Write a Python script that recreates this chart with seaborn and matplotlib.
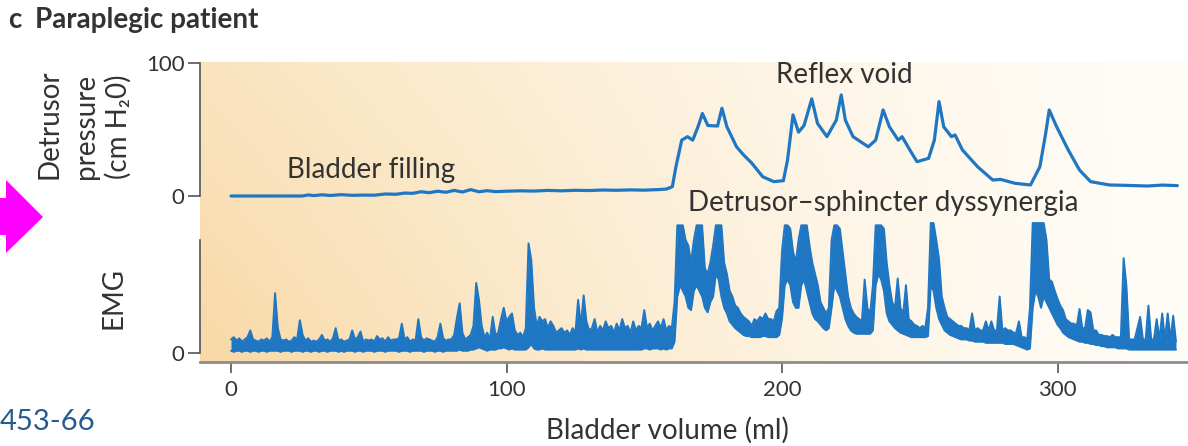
import numpy as np
import matplotlib
matplotlib.use('Agg')
import matplotlib.pyplot as plt
import seaborn as sns
from matplotlib.patches import Polygon
from matplotlib.colors import to_rgb

# ---------------- data ----------------
pressure_ml = [0, 10, 20, 26, 28, 30, 33, 36, 40, 44, 48, 52, 56, 60, 63, 66, 69, 72, 75, 78,
               81, 84, 87, 90, 93, 96, 100, 105, 110, 115, 120, 125, 130, 135, 140, 145, 150,
               155, 158, 160.2, 161.5, 163.6, 165.7, 167.6, 169.5, 171.1, 173.1, 176.6, 178.2,
               180, 183.5, 186, 189, 193, 197, 200.5, 202, 204, 206, 208, 210.8, 212.9, 216.3,
               219.7, 221.5, 223, 225.8, 231.3, 234, 236.7, 239, 242.2, 243.6, 246.4, 249,
               253.2, 255.3, 257, 258.7, 261.5, 262.8, 265.5, 271, 276.5, 279.3, 284.7, 290.2,
               293.6, 295.7, 297, 299.7, 303.9, 308, 312, 318.8, 325, 332.6, 338, 343.5]
pressure_val = [0, 0, 0, 0, 0.8, 0.3, 0.9, 0.4, 1, 0.5, 0.7, 0.6, 1.5, 1.3, 2.2, 2.0, 3.2, 2.5,
                3.6, 2.8, 4.2, 3.0, 4.8, 3.2, 4.0, 3.3, 3.6, 3.9, 3.7, 4.2, 3.9, 4.3, 4.1, 4.5,
                4.3, 4.6, 4.4, 4.8, 5.2, 7, 22, 42, 44.6, 42, 52, 62, 53, 52.6, 66, 52, 37, 31,
                24.8, 14.5, 10.8, 11.5, 27, 61, 48, 53, 73, 54.6, 44.6, 57, 76, 57, 44.6, 37, 42,
                64.7, 52, 42, 44.6, 34.6, 25.8, 28.3, 42, 71, 52, 44.6, 45.9, 34.6, 22, 12, 12.5,
                9.5, 8.3, 22, 47, 64.7, 52, 34.6, 19.5, 10.8, 8.3, 8, 7.5, 8.2, 7.8]

emg_ml = list(range(0, 344))
# upper and lower edge of the dense EMG trace, one reading per ml
emg_high = [
    12, 14, 11, 13, 10, 12, 14, 20, 12, 11,
    10, 12, 11, 13, 10, 14, 53, 22, 12, 11,
    12, 10, 11, 14, 12, 29, 16, 11, 13, 10,
    11, 10, 12, 16, 11, 12, 10, 13, 22, 11,
    12, 10, 11, 12, 20, 12, 14, 19, 10, 12,
    11, 12, 10, 15, 12, 13, 10, 14, 11, 12,
    12, 13, 26, 12, 14, 10, 12, 11, 30, 14,
    11, 13, 12, 11, 10, 14, 26, 13, 11, 12,
    12, 16, 31, 44, 18, 12, 14, 16, 24, 62,
    47, 24, 14, 18, 12, 32, 16, 18, 30, 40,
    28, 32, 35, 20, 16, 18, 14, 22, 97, 82,
    40, 24, 32, 28, 30, 22, 28, 24, 18, 20,
    22, 18, 20, 16, 22, 18, 47, 24, 51, 28,
    20, 22, 30, 18, 24, 20, 28, 22, 24, 18,
    26, 20, 30, 22, 24, 18, 28, 20, 24, 22,
    38, 22, 26, 20, 24, 28, 22, 30, 20, 24,
    22, 45, 113, 113, 113, 100, 95, 80, 100, 113,
    113, 113, 75, 70, 80, 95, 113, 113, 113, 80,
    70, 55, 50, 42, 40, 35, 32, 30, 28, 24,
    30, 28, 32, 30, 35, 30, 30, 28, 37, 40,
    90, 113, 113, 110, 90, 80, 100, 113, 113, 113,
    95, 80, 70, 60, 45, 40, 35, 40, 100, 113,
    113, 110, 90, 70, 50, 40, 35, 32, 30, 28,
    65, 40, 35, 60, 113, 113, 113, 110, 80, 60,
    45, 40, 66, 40, 35, 60, 30, 28, 25, 24,
    22, 24, 22, 40, 115, 115, 100, 83, 50, 40,
    32, 30, 28, 26, 24, 24, 22, 22, 20, 35,
    20, 22, 20, 20, 28, 20, 28, 20, 20, 50,
    20, 22, 20, 20, 18, 18, 28, 14, 14, 12,
    40, 115, 115, 115, 115, 115, 100, 65, 63, 55,
    48, 42, 38, 30, 28, 26, 26, 24, 39, 22,
    22, 38, 36, 20, 20, 16, 16, 15, 15, 14,
    16, 14, 14, 14, 84, 60, 12, 12, 12, 22,
    32, 12, 12, 42, 12, 12, 30, 12, 35, 12,
    35, 12, 33, 10]
emg_low = [
    2, 1, 2, 2, 1, 2, 2, 1, 2, 2,
    1, 2, 2, 1, 2, 2, 2, 2, 1, 2,
    2, 2, 1, 2, 2, 2, 1, 2, 2, 1,
    2, 2, 1, 2, 2, 1, 2, 2, 2, 1,
    2, 1, 2, 2, 2, 1, 2, 2, 1, 2,
    2, 2, 1, 2, 2, 2, 1, 2, 2, 2,
    2, 1, 2, 2, 2, 1, 2, 2, 2, 2,
    1, 2, 2, 2, 1, 2, 2, 1, 2, 2,
    2, 2, 2, 3, 2, 2, 2, 3, 3, 4,
    5, 4, 3, 2, 3, 3, 3, 4, 4, 5,
    4, 3, 4, 3, 3, 3, 3, 3, 5, 8,
    4, 3, 3, 4, 3, 3, 3, 3, 3, 3,
    3, 3, 3, 3, 3, 3, 4, 3, 4, 3,
    3, 3, 3, 3, 3, 3, 3, 3, 3, 3,
    3, 3, 3, 3, 3, 3, 3, 3, 3, 3,
    4, 4, 3, 4, 4, 4, 3, 4, 3, 4,
    4, 10, 50, 60, 55, 50, 40, 38, 55, 60,
    55, 50, 40, 36, 45, 50, 70, 65, 50, 40,
    35, 28, 25, 22, 20, 18, 16, 15, 15, 14,
    14, 14, 14, 15, 15, 14, 14, 14, 14, 16,
    30, 60, 65, 60, 45, 40, 40, 60, 65, 55,
    45, 35, 30, 28, 25, 22, 20, 22, 40, 60,
    55, 50, 40, 30, 24, 20, 18, 17, 17, 17,
    17, 17, 17, 20, 60, 70, 65, 55, 35, 28,
    25, 22, 20, 18, 17, 16, 15, 14, 14, 14,
    14, 14, 14, 15, 60, 55, 40, 30, 25, 20,
    18, 16, 15, 14, 13, 12, 12, 12, 11, 11,
    10, 10, 10, 10, 9, 9, 9, 9, 9, 9,
    9, 8, 8, 8, 8, 7, 6, 5, 4, 3,
    4, 40, 55, 50, 40, 50, 45, 40, 35, 30,
    25, 22, 18, 16, 14, 13, 12, 11, 10, 10,
    9, 9, 8, 8, 7, 7, 6, 6, 5, 5,
    5, 5, 4, 4, 4, 4, 3, 3, 3, 3,
    3, 3, 3, 3, 3, 3, 3, 3, 3, 3,
    3, 3, 3, 3]

x_ticks = [0, 100, 200, 300]
pressure_ticks = [0, 100]
emg_ticks = [0]

# ---------------- styling ----------------
W, H = 1188, 446
BLUE = '#1f77c3'
TXT = '#333333'
SPINE = '#555555'
FS = 20
sns.set_style('white')
plt.rcParams['font.family'] = ['Lato', 'DejaVu Sans']

fig = plt.figure(figsize=(W / 100, H / 100), dpi=100)


def box(x0, y0, x1, y1):
    """pixel box (top-left origin) -> figure fraction rect"""
    return [x0 / W, 1 - y1 / H, (x1 - x0) / W, (y1 - y0) / H]


XPX0, XSC = 231, 2.755
XLIM = ((200 - XPX0) / XSC, (W - XPX0) / XSC)

# background gradient panel
bg = fig.add_axes(box(200, 62, W, 362))
nx, ny = 400, 120
xn = np.linspace(0, 1, nx)[None, :]
yn = np.linspace(0, 1, ny)[:, None]  # 0 top, 1 bottom
w = (1 - xn) ** 1.3 * (0.7 + 0.3 * yn)
peach = np.array(to_rgb('#f8d9a6'))
cream = np.array(to_rgb('#fffdf8'))
img = cream[None, None, :] + w[..., None] * (peach - cream)[None, None, :]
bg.imshow(img, aspect='auto', extent=(0, 1, 0, 1), origin='upper', interpolation='bilinear')
bg.set_axis_off()

# pressure axes
axp = fig.add_axes(box(200, 55, W, 215))
axp.patch.set_alpha(0)
sns.lineplot(x=pressure_ml, y=pressure_val, ax=axp, color=BLUE, linewidth=2.3,
             estimator=None, sort=False)
axp.set_xlim(*XLIM)
axp.set_ylim((196 - 215) / 1.33, (196 - 55) / 1.33)
for s in ['top', 'right', 'bottom']:
    axp.spines[s].set_visible(False)
axp.spines['left'].set_bounds(0, 100)
axp.spines['left'].set_color(SPINE)
axp.spines['left'].set_linewidth(1.2)
axp.set_xticks([])
axp.set_yticks(pressure_ticks)
axp.tick_params(axis='y', direction='out', length=9, width=1.2, color=SPINE,
                labelsize=16, labelcolor=TXT, pad=2, left=True)
axp.set_xlabel('')
axp.set_ylabel('')

axp.text(222.5, 91, 'Reflex void', ha='center', va='center', fontsize=FS, color=TXT)
axp.text(20.3, 19.5, 'Bladder filling', ha='left', va='center', fontsize=FS, color=TXT)
axp.text(165.9, -5.3, 'Detrusor\u2013sphincter dyssynergia', ha='left', va='center',
         fontsize=FS, color=TXT, clip_on=False)

# EMG axes
axe = fig.add_axes(box(200, 215, W, 362))
axe.patch.set_alpha(0)
axe.fill_between(emg_ml, emg_low, emg_high, color=BLUE, linewidth=0)
sns.lineplot(x=emg_ml, y=emg_high, ax=axe, color=BLUE, linewidth=1.4,
             estimator=None, sort=False)
sns.lineplot(x=emg_ml, y=emg_low, ax=axe, color=BLUE, linewidth=1.4,
             estimator=None, sort=False)
axe.set_xlim(*XLIM)
axe.set_ylim((353 - 362) / 1.13, (353 - 215) / 1.13)
for s in ['top', 'right']:
    axe.spines[s].set_visible(False)
axe.spines['left'].set_bounds(0, 100)
axe.spines['left'].set_color(SPINE)
axe.spines['left'].set_linewidth(1.2)
axe.spines['bottom'].set_color('#8c8c8c')
axe.spines['bottom'].set_linewidth(2.0)
axe.set_yticks(emg_ticks)
axe.set_xticks(x_ticks)
axe.tick_params(axis='y', direction='out', length=9, width=1.2, color=SPINE,
                labelsize=16, labelcolor=TXT, pad=2, left=True)
axe.tick_params(axis='x', direction='out', length=8, width=1.2, color=SPINE,
                labelsize=16, labelcolor=TXT, pad=5, bottom=True)
axe.set_xlabel('')
axe.set_ylabel('')

# figure texts
fig.text(8 / W, 1 - 20 / H, 'c', fontsize=FS, fontweight='bold', color=TXT, va='center')
fig.text(35 / W, 1 - 20 / H, 'Paraplegic patient', fontsize=FS, fontweight='bold',
         color=TXT, va='center')
for xp, s in [(50, 'Detrusor'), (86, 'pressure'), (118, '(cm H\u20820)')]:
    fig.text(xp / W, 1 - 179 / H, s, rotation=90, ha='center', va='bottom',
             fontsize=FS, color=TXT)
fig.text(113 / W, 1 - 298 / H, 'EMG', rotation=90, ha='center', va='center',
         fontsize=FS, color=TXT)
fig.text(667 / W, 1 - 430 / H, 'Bladder volume (ml)', ha='center', va='center',
         fontsize=FS, color=TXT)
fig.text(95 / W, 1 - 422 / H, '453-66', ha='right', va='center', fontsize=21,
         color='#275b8e')

# magenta arrow at the left edge
arrow_px = [(-5, 198), (6, 198), (6, 180), (43, 217), (6, 253), (6, 235), (-5, 235)]
arrow = Polygon([(x / W, 1 - y / H) for x, y in arrow_px], closed=True,
                transform=fig.transFigure, facecolor='#ff00ff', edgecolor='none')
fig.patches.append(arrow)

fig.savefig('out.png', dpi=100)
